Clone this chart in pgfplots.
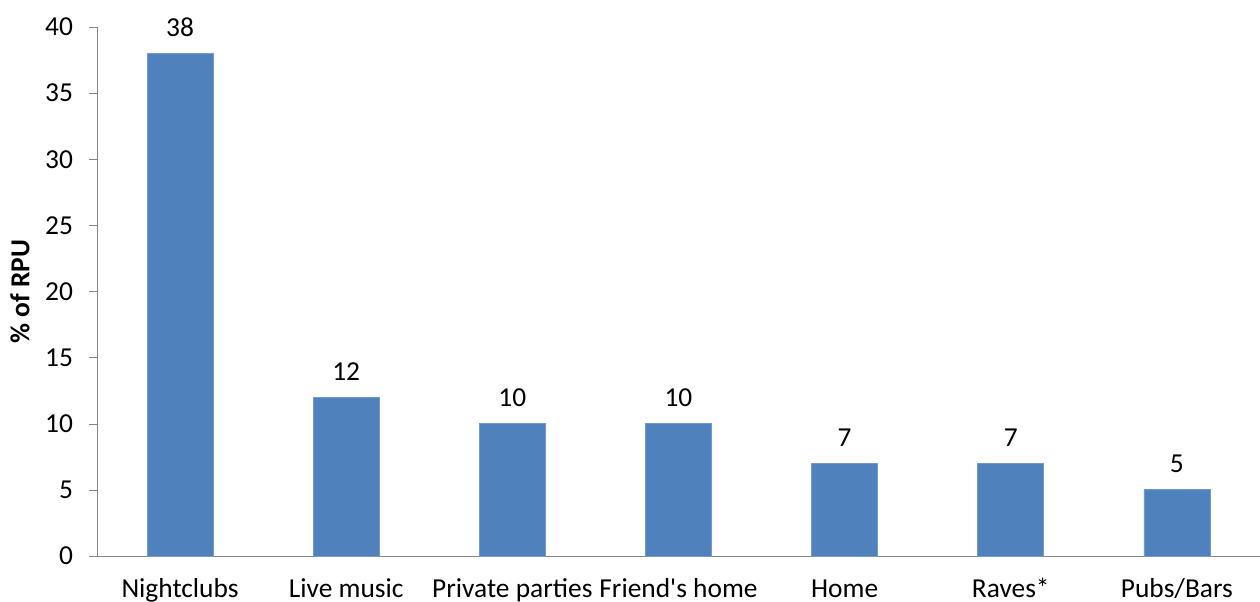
\documentclass[border=0pt]{standalone}
\usepackage{pgfplots}
\pgfplotsset{compat=1.18}
\usepackage{fontspec}
\setmainfont{Carlito}
\definecolor{barblue}{HTML}{4F81BD}
\definecolor{axgray}{HTML}{868686}
\begin{document}
\begin{tikzpicture}[font=\fontsize{13.7pt}{16pt}\selectfont]
\begin{axis}[
  scale only axis,
  width=581.5pt, height=264.5pt,
  xmin=-0.5, xmax=6.5, ymin=0, ymax=40,
  axis x line*=bottom, axis y line*=left,
  axis line style={axgray, -},
  ytick={0,5,...,40},
  xtick={0,...,6},
  xticklabels={Nightclubs,Live music,Private parties,Friend\textquotesingle s home,Home,Raves*,Pubs/Bars},
  x tick style={draw=none},
  y tick style={axgray},
  tick align=outside,
  major tick length=4pt,
  extra x ticks={-0.5,0.5,1.5,2.5,3.5,4.5,5.5,6.5},
  extra x tick labels={},
  extra x tick style={tick style={draw=axgray}, major tick length=4pt},
  xticklabel style={anchor=base, yshift=-16.5pt},
  yticklabel style={xshift=-4.5pt},
  /pgf/number format/assume math mode=true,
  ylabel={\textbf{\% of RPU}},
  every axis y label/.style={at={(axis description cs:-0.0662,0.5)}, rotate=90, anchor=center},
  ybar, bar width=33pt,
  nodes near coords,
  nodes near coords style={anchor=base, yshift=8.5pt},
  clip=false,
]
\addplot[fill=barblue, draw=barblue!80!white] coordinates {(0,38) (1,12) (2,10) (3,10) (4,7) (5,7) (6,5)};
\end{axis}
\pgfresetboundingbox
\path[use as bounding box] (-48.5pt,-22.5pt) rectangle (581.5pt,278pt);
\end{tikzpicture}
\end{document}
